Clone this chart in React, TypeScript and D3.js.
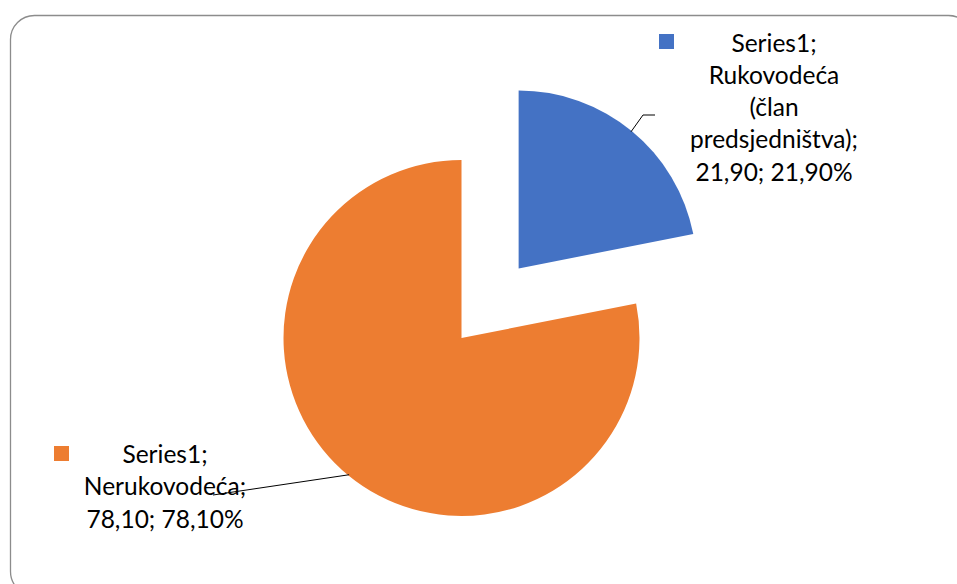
import React from "react";
import * as d3 from "d3";

const categories = ["Rukovodeća (član predsjedništva)", "Nerukovodeća"];
const values = [21.9, 78.1];
const colors = ["#4472C4", "#ED7D31"];
const labelLines = [
  ["Series1;", "Rukovodeća", "(član", "predsjedništva);", "21,90; 21,90%"],
  ["Series1;", "Nerukovodeća;", "78,10; 78,10%"],
];

const W = 957;
const H = 584;

export default function App() {
  const cx = 461.5;
  const cy = 338;
  const r = 178;
  const explode = 90;
  const pie = d3.pie<number>().sort(null).startAngle(0).endAngle(2 * Math.PI);
  const arcs = pie(values);
  const arcGen = d3.arc<d3.PieArcDatum<number>>().innerRadius(0).outerRadius(r);

  const font = "Lato, 'Open Sans', sans-serif";
  const fs = 24.5;
  const lh = 32.3;

  const labels = [
    { x: 774, y: 51.5, sq: [659, 34] },
    { x: 165, y: 463, sq: [54, 446] },
  ];

  return (
    <div style={{ position: "absolute", left: 0, top: 0 }}>
      <svg width={W} height={H} style={{ display: "block", background: "#fff" }}>
        <rect x={10.5} y={15.5} width={962} height={580} rx={24} ry={24} fill="#fff" stroke="#8c8c8c" strokeWidth={1.3} />
        {arcs.map((a, i) => {
          const mid = (a.startAngle + a.endAngle) / 2;
          const off = i === 0 ? explode : 0;
          const dx = Math.sin(mid) * off;
          const dy = -Math.cos(mid) * off;
          return (
            <path key={categories[i]} d={arcGen(a) || ""} fill={colors[i]} transform={`translate(${cx + dx},${cy + dy})`} />
          );
        })}
        {(() => {
          const a0 = arcs[0];
          const mid = (a0.startAngle + a0.endAngle) / 2;
          const bx = cx + Math.sin(mid) * explode;
          const by = cy - Math.cos(mid) * explode;
          const p1x = bx + Math.sin(mid) * (r - 1);
          const p1y = by - Math.cos(mid) * (r - 1);
          const a1 = arcs[1];
          const mid1 = (a1.startAngle + a1.endAngle) / 2;
          const q1x = cx + Math.sin(mid1) * (r - 1);
          const q1y = cy - Math.cos(mid1) * (r - 1);
          return (
            <g stroke="#000" strokeWidth={1} fill="none">
              <polyline points={`${p1x},${p1y} ${643},${115} ${655},${115}`} />
              <polyline points={`${q1x},${q1y} ${213},${495}`} />
            </g>
          );
        })()}
        {labels.map((l, i) => (
          <g key={i}>
            <rect x={l.sq[0]} y={l.sq[1]} width={15} height={15} fill={colors[i]} />
            <text fontFamily={font} fontSize={fs} fill="#000" textAnchor="middle">
              {labelLines[i].map((t, j) => (
                <tspan key={j} x={l.x} y={l.y + j * lh}>
                  {t}
                </tspan>
              ))}
            </text>
          </g>
        ))}
      </svg>
    </div>
  );
}
